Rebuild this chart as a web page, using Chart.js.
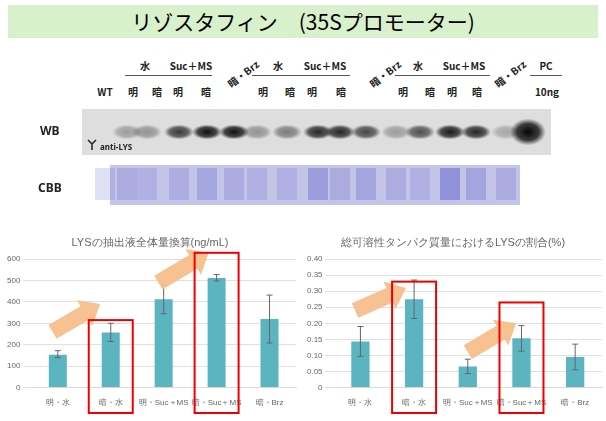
<!DOCTYPE html>
<html><head><meta charset="utf-8">
<script src="https://cdn.jsdelivr.net/npm/chart.js@4"></script>
<style>
body{margin:0;width:606px;height:421px;background:#fff;position:relative;overflow:hidden;font-family:"Noto Sans CJK JP","Noto Sans",sans-serif;}
.abs{position:absolute;}
#title{left:8px;top:5px;width:590px;height:33px;background:#d8f0cc;font-size:21px;text-align:center;line-height:33px;color:#000;}
.lbl{position:absolute;font-size:10px;font-weight:bold;color:#222;transform:translateX(-50%);white-space:nowrap;}
.line{position:absolute;height:1px;background:#555;}
</style></head><body>
<div id="title" class="abs">リゾスタフィン　(35Sプロモーター)</div>
<div id="hdr"></div>
<canvas id="blot" class="abs" width="606" height="230" style="left:0;top:0"></canvas>
<div class="abs" style="left:0;top:230px;width:300px;height:191px"><canvas id="c1"></canvas></div>
<div class="abs" style="left:300px;top:230px;width:306px;height:191px"><canvas id="c2"></canvas></div>
<script>
const categories=["明・水","暗・水","明・Suc＋MS","暗・Suc＋MS","暗・Brz"];
const lysTotal=[153,257,413,512,320];
const lysTotalLow=[140,215,345,498,208];
const lysTotalHigh=[172,300,480,528,432];
const lysRatio=[0.143,0.275,0.065,0.153,0.095];
const lysRatioLow=[0.097,0.215,0.043,0.113,0.055];
const lysRatioHigh=[0.19,0.335,0.088,0.193,0.135];
const yTicks1=[0,100,200,300,400,500,600];
const yTicks2=[0,0.05,0.1,0.15,0.2,0.25,0.3,0.35,0.4];
const laneLabels=["WT","明","暗","明","暗","暗・Brz","明","暗","明","暗","暗・Brz","明","暗","明","暗","暗・Brz","10ng"];
const wbBands=[0,0.3,0.35,0.75,0.95,0.95,0.35,0.45,0.85,0.85,0.7,0.3,0.65,0.9,0.85,0.25,1];
const cbbLanes=[0.3,0.4,0.3,0.35,0.45,0.4,0.3,0.3,0.6,0.4,0.5,0.35,0.3,0.8,0.5,0.4,0];
const boxes1=[[1,315],[3,630]], arrows1=[[-0.1,260],[0.8,390],[1.9,490],[2.85,630]];
const boxes2=[[1,0.33],[3,0.265]], arrows2=[[-0.1,0.24],[0.85,0.31],[2,0.11],[2.9,0.2]];

const hdr=document.getElementById('hdr');
const labX=[105,133,157,178,206,243,263,290,312,341,385,403,430,452,477,510,547];
laneLabels.forEach((t,i)=>{const d=document.createElement('div');d.className='lbl';d.textContent=t;
 d.style.left=labX[i]+'px';d.style.top='84px';
 if(t==="暗・Brz"){d.style.top='66px';d.style.transform='translateX(-50%) rotate(-38deg)';}
 hdr.appendChild(d);});
[["水",145,125,170],["Suc＋MS",191,165,212],["水",278,252,300],["Suc＋MS",325,300,350],["水",418,395,442],["Suc＋MS",464,440,490],["PC",546,530,562]].forEach(g=>{
 const d=document.createElement('div');d.className='lbl';d.textContent=g[0];d.style.left=g[1]+'px';d.style.top='58px';hdr.appendChild(d);
 const l=document.createElement('div');l.className='line';l.style.left=g[2]+'px';l.style.width=(g[3]-g[2])+'px';l.style.top='75px';hdr.appendChild(l);});

const bc=document.getElementById('blot').getContext('2d');
bc.fillStyle='#dedede';bc.fillRect(82,109,469,46);
const bandX=[105,127,147,179,207,234,257,287,318,340,366,396,420,450,476,506,528];
wbBands.forEach((v,i)=>{if(!v)return;const r=i==16?18:15;const g=bc.createRadialGradient(bandX[i],132,1,bandX[i],132,r);
 g.addColorStop(0,`rgba(10,10,10,${v})`);g.addColorStop(0.6,`rgba(20,20,20,${v*0.8})`);g.addColorStop(1,'rgba(40,40,40,0)');
 bc.save();bc.translate(bandX[i],132);bc.scale(1,i==16?0.75:0.5);bc.translate(-bandX[i],-132);bc.fillStyle=g;bc.fillRect(bandX[i]-20,108,40,48);bc.restore();});
bc.fillStyle='#222';bc.font='bold 12px "Noto Sans"';bc.fillText('WB',40,135);bc.fillText('CBB',38,192);
bc.font='bold 8px "Noto Sans"';bc.fillText('anti-LYS',100,150);
bc.strokeStyle='#222';bc.lineWidth=1.5;bc.beginPath();bc.moveTo(92,144);bc.lineTo(92,150);bc.moveTo(92,144);bc.lineTo(88,140);bc.moveTo(92,144);bc.lineTo(96,140);bc.stroke();
bc.fillStyle='#c4c4e8';bc.fillRect(110,165,410,40);
cbbLanes.forEach((v,i)=>{if(!v)return;bc.fillStyle=`rgba(90,90,200,${v*0.6})`;bc.fillRect(bandX[i]-10,168,20,32);});

function makePlugin(lo,hi,boxes,arrows){return {id:'err',afterDraw(ch){const ctx=ch.ctx,x=ch.scales.x,y=ch.scales.y;
 const p0=x.getPixelForValue(0),st=x.getPixelForValue(1)-p0;const px=v=>p0+v*st;
 ctx.save();ctx.strokeStyle='#666';ctx.lineWidth=1;
 lo.forEach((l,i)=>{const X=px(i);ctx.beginPath();ctx.moveTo(X,y.getPixelForValue(l));ctx.lineTo(X,y.getPixelForValue(hi[i]));
 ctx.moveTo(X-3,y.getPixelForValue(l));ctx.lineTo(X+3,y.getPixelForValue(l));ctx.moveTo(X-3,y.getPixelForValue(hi[i]));ctx.lineTo(X+3,y.getPixelForValue(hi[i]));ctx.stroke();});
 ctx.fillStyle='rgba(248,190,140,0.95)';
 for(let k=0;k<arrows.length;k+=2){const a=arrows[k],b=arrows[k+1];const x0=px(a[0]),y0=y.getPixelForValue(a[1]),x1=px(b[0]),y1=y.getPixelForValue(b[1]);
  const ang=Math.atan2(y1-y0,x1-x0),L=Math.hypot(x1-x0,y1-y0);ctx.save();ctx.translate(x0,y0);ctx.rotate(ang);
  ctx.beginPath();ctx.moveTo(0,-8);ctx.lineTo(L-18,-8);ctx.lineTo(L-18,-15);ctx.lineTo(L,0);ctx.lineTo(L-18,15);ctx.lineTo(L-18,8);ctx.lineTo(0,8);ctx.closePath();ctx.fill();ctx.restore();}
 ctx.strokeStyle='#e00';ctx.lineWidth=2;
 boxes.forEach(b=>{const X=px(b[0]);ctx.strokeRect(X-22,y.getPixelForValue(b[1]),44,ch.height-8-y.getPixelForValue(b[1]));});
 ctx.restore();}};}

function mk(id,title,data,lo,hi,ticks,max,boxes,arrows){
 new Chart(document.getElementById(id),{type:'bar',data:{labels:categories,datasets:[{data:data,backgroundColor:'#5bb5c0',barPercentage:0.34,categoryPercentage:1}]},
 options:{responsive:true,maintainAspectRatio:false,animation:false,layout:{padding:{left:4,right:4,top:2,bottom:10}},
 plugins:{legend:{display:false},tooltip:{enabled:false},title:{display:true,text:title,color:'#666',font:{size:11,weight:'normal'},padding:{top:4,bottom:10}}},
 scales:{x:{grid:{display:false},border:{color:'#d9d9d9'},ticks:{color:'#666',font:{size:8},maxRotation:0,autoSkip:false}},
 y:{min:0,max:max,afterBuildTicks:s=>{s.ticks=ticks.map(v=>({value:v}));},ticks:{color:'#666',font:{size:8}},grid:{color:'#e0e0e0'},border:{display:false}}}},
 plugins:[makePlugin(lo,hi,boxes,arrows)]});}
mk('c1','LYSの抽出液全体量換算(ng/mL)',lysTotal,lysTotalLow,lysTotalHigh,yTicks1,600,boxes1,arrows1);
mk('c2','総可溶性タンパク質量におけるLYSの割合(%)',lysRatio,lysRatioLow,lysRatioHigh,yTicks2,0.4,boxes2,arrows2);
</script></body></html>
